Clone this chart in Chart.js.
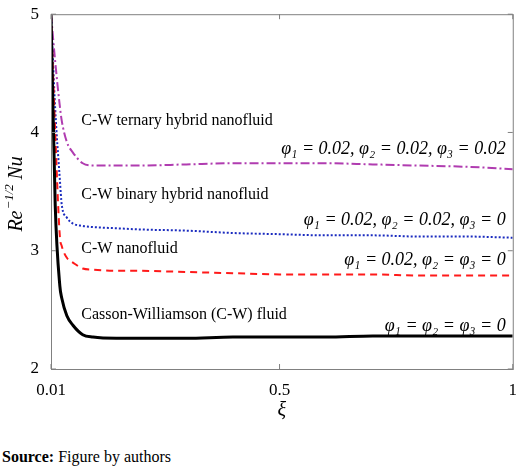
<!DOCTYPE html>
<html><head><meta charset="utf-8">
<script src="https://cdn.jsdelivr.net/npm/chart.js@4/dist/chart.umd.min.js"></script>
<style>body{margin:0;background:#fff;width:520px;height:472px;overflow:hidden;font-family:"Liberation Serif",serif}
#src{position:absolute;left:2px;top:448px;font-size:16px}</style></head><body>
<div style="position:relative;width:520px;height:440px"><canvas id="c"></canvas></div>
<div id="src"><b>Source:</b> Figure by authors</div>
<script>
const xi      = [0.01,0.019,0.029,0.033,0.044,0.057,0.078,0.1,0.15,0.2,0.3,0.4,0.5,0.6,0.7,0.8,0.9,1];
const cw      = [5.0,3.39,2.70,2.60,2.45,2.37,2.29,2.27,2.26,2.26,2.26,2.27,2.27,2.27,2.28,2.28,2.28,2.28];
const cwNano  = [5.0,4.0,3.12,3.04,2.94,2.90,2.85,2.84,2.83,2.83,2.82,2.81,2.80,2.80,2.80,2.79,2.79,2.79];
const cwBin   = [5.0,4.2,3.60,3.39,3.28,3.23,3.21,3.20,3.19,3.18,3.17,3.15,3.14,3.13,3.13,3.12,3.12,3.11];
const cwTer   = [5.0,4.6,4.22,4.10,3.92,3.83,3.74,3.72,3.72,3.72,3.73,3.74,3.74,3.74,3.73,3.72,3.71,3.69];
const xTicks = [0.01,0.5,1];
const yTicks = [2,3,4,5];
const pts = a => a.map((v,i)=>({x:xi[i],y:v}));
const texts = [
 {t:"C-W ternary hybrid nanofluid", x:0.075, y:4.06, a:"left"},
 {t:"C-W binary hybrid nanofluid", x:0.075, y:3.44, a:"left"},
 {t:"C-W nanofluid", x:0.075, y:2.98, a:"left"},
 {t:"Casson-Williamson (C-W) fluid", x:0.075, y:2.42, a:"left"},
 {t:"φ₁ = 0.02, φ₂ = 0.02, φ₃ = 0.02", x:0.985, y:3.82, a:"right"},
 {t:"φ₁ = 0.02, φ₂ = 0.02, φ₃ = 0", x:0.985, y:3.22, a:"right"},
 {t:"φ₁ = 0.02, φ₂ = φ₃ = 0", x:0.985, y:2.88, a:"right"},
 {t:"φ₁ = φ₂ = φ₃ = 0", x:0.985, y:2.32, a:"right"}];
const deco = {id:'deco', afterDraw(ch){
 const c=ch.ctx, xs=ch.scales.x, ys=ch.scales.y, a=ch.chartArea;
 c.save(); c.strokeStyle='#808080'; c.lineWidth=1;
 c.strokeRect(a.left+0.5,a.top+0.5,a.right-a.left,a.bottom-a.top);
 xTicks.forEach(v=>{const p=xs.getPixelForValue(v);c.beginPath();c.moveTo(p,a.bottom);c.lineTo(p,a.bottom-5);c.moveTo(p,a.top);c.lineTo(p,a.top+5);c.stroke();});
 yTicks.forEach(v=>{const p=ys.getPixelForValue(v);c.beginPath();c.moveTo(a.left,p);c.lineTo(a.left+5,p);c.moveTo(a.right,p);c.lineTo(a.right-5,p);c.stroke();});
 c.fillStyle='#000'; c.textBaseline='alphabetic';
 texts.forEach(o=>{c.font=o.a==='left'?'16px "Liberation Serif"':'italic 18px "Liberation Serif"';c.textAlign=o.a;c.fillText(o.t,xs.getPixelForValue(o.x),ys.getPixelForValue(o.y));});
 c.font='italic 20px "Liberation Serif"'; c.textAlign='center'; c.fillText('ξ',(a.left+a.right)/2,416);
 c.translate(22,(a.top+a.bottom)/2); c.rotate(-Math.PI/2); c.textAlign='left';
 c.font='italic 20px "Liberation Serif"'; c.fillText('Re',-40,0);
 c.font='italic 13px "Liberation Serif"'; c.fillText('−1/2',-18,-9);
 c.font='italic 20px "Liberation Serif"'; c.fillText('Nu',12,0);
 c.restore();}};
new Chart(document.getElementById('c'),{type:'line',
 data:{datasets:[
  {data:pts(cw),borderColor:'#000',borderWidth:3},
  {data:pts(cwNano),borderColor:'#ff1a1a',borderWidth:2,borderDash:[7,5]},
  {data:pts(cwBin),borderColor:'#1a2bbf',borderWidth:2,borderDash:[2,2]},
  {data:pts(cwTer),borderColor:'#b03cb0',borderWidth:2,borderDash:[9,3,2,3]}]},
 options:{responsive:true,maintainAspectRatio:false,animation:false,
  layout:{padding:{top:4,right:4,left:0,bottom:0}},
  elements:{point:{radius:0},line:{tension:0.4,cubicInterpolationMode:'monotone'}},
  plugins:{legend:{display:false},tooltip:{enabled:false}},
  scales:{
   x:{type:'linear',min:0.01,max:1,afterBuildTicks:s=>{s.ticks=xTicks.map(v=>({value:v}))},
      afterFit:s=>{s.height=71},grid:{display:false},border:{display:false},
      ticks:{color:'#000',font:{family:'Liberation Serif',size:17},maxRotation:0,callback:v=>String(v)}},
   y:{min:2,max:5,afterBuildTicks:s=>{s.ticks=yTicks.map(v=>({value:v}))},
      afterFit:s=>{s.width=51},grid:{display:false},border:{display:false},
      ticks:{color:'#000',font:{family:'Liberation Serif',size:17},padding:4}}}},
 plugins:[deco]});
</script></body></html>
